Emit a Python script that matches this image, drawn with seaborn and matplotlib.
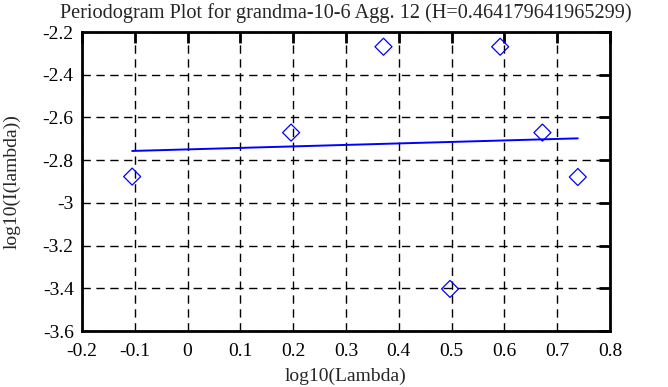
import numpy as np
import pandas as pd
import matplotlib
matplotlib.use("Agg")
import matplotlib.pyplot as plt
import seaborn as sns
from matplotlib.ticker import FuncFormatter

# periodogram points
log_lambda = [-0.105, 0.196, 0.371, 0.497, 0.592, 0.672, 0.739]
log_i = [-2.877, -2.671, -2.269, -3.403, -2.269, -2.671, -2.879]

# fitted line end points
fit_x = [-0.105, 0.739]
fit_y = [-2.757, -2.698]

title = "Periodogram Plot for grandma-10-6 Agg. 12 (H=0.464179641965299)"
x_ticks = [-0.2, -0.1, 0, 0.1, 0.2, 0.3, 0.4, 0.5, 0.6, 0.7, 0.8]
y_ticks = [-3.6, -3.4, -3.2, -3.0, -2.8, -2.6, -2.4, -2.2]

sns.set_style("white")
plt.rcParams["font.family"] = ["Liberation Serif", "DejaVu Serif"]
plt.rcParams["axes.unicode_minus"] = False

points = pd.DataFrame({"x": log_lambda, "y": log_i})
fit = pd.DataFrame({"x": fit_x, "y": fit_y})

fig = plt.figure(figsize=(6.68, 3.87), dpi=100)
ax = fig.add_axes([82 / 668, 1 - 331 / 387, 528 / 668, 299 / 387])

sns.lineplot(data=fit, x="x", y="y", color="#0000ff", linewidth=1.4, ax=ax, zorder=3)
sns.scatterplot(data=points, x="x", y="y", marker="D", s=75, facecolor="none",
                edgecolor="#0000ff", linewidth=0.9, ax=ax, zorder=4)

ax.set_xlim(-0.2, 0.8)
ax.set_ylim(-3.6, -2.2)
ax.set_xticks(x_ticks)
ax.set_yticks(y_ticks)
fmt = FuncFormatter(lambda v, p: "%g" % round(v, 3))
ax.xaxis.set_major_formatter(fmt)
ax.yaxis.set_major_formatter(fmt)

ax.grid(True, color="black", linestyle=(0, (6, 4)), linewidth=1.0)
ax.tick_params(direction="in", length=8, width=2, top=True, right=True,
               labelsize=14, colors="black")
ax.tick_params(axis="x", pad=9)
ax.tick_params(axis="y", pad=6)
for s in ax.spines.values():
    s.set_linewidth(2)
    s.set_color("black")

ax.set_title(title, fontsize=14.6, pad=10)
ax.set_xlabel("log10(Lambda)", fontsize=14, labelpad=5)
ax.set_ylabel("log10(I(lambda))", fontsize=14)
ax.yaxis.set_label_coords(-0.117, 0.5)

fig.savefig("out.png", dpi=100)
